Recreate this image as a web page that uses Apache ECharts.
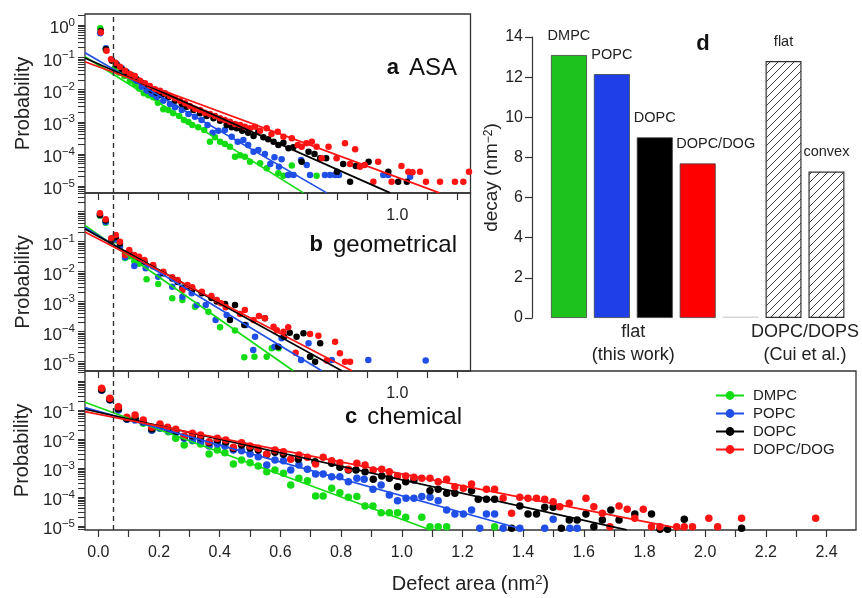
<!DOCTYPE html>
<html>
<head>
<meta charset="utf-8">
<script src="https://cdn.jsdelivr.net/npm/echarts@6/dist/echarts.min.js"></script>
<style>html,body{margin:0;padding:0;background:#fff}#main{width:862px;height:598px}</style>
</head>
<body>
<div id="main"></div>
<script>
// ---------------- data ----------------
const seriesNames = ['DMPC', 'POPC', 'DOPC', 'DOPC/DOG'];

// panel a (ASA): [defect area nm^2, probability]
const dmpcASA = [[0.006,0.80],[0.025,0.17],[0.054,0.0457],[0.069,0.0336],[0.087,0.0264],[0.105,0.0189],[0.122,0.0149],[0.136,0.0109],[0.152,0.00766],[0.167,0.00664],[0.183,0.00575],[0.199,0.00393],[0.217,0.00244],[0.234,0.00232],[0.250,0.00183],[0.270,0.00151],[0.286,0.00114],[0.301,0.000986],[0.314,0.000796],[0.334,0.000673],[0.354,0.000556],[0.373,0.000241],[0.390,0.00033],[0.407,0.000241],[0.423,0.000205],[0.440,0.000169],[0.457,0.0000826],[0.474,0.000091],[0.490,0.0000826],[0.507,0.0000578],[0.541,0.0000513],[0.563,0.0000359],[0.602,0.0000251],[0.619,0.0000212],[0.647,0.0000437],[0.730,0.0000212]];
const popcASA = [[0.006,0.56],[0.025,0.191],[0.045,0.083],[0.061,0.0624],[0.078,0.0457],[0.094,0.036],[0.111,0.0264],[0.128,0.0189],[0.145,0.0123],[0.161,0.00927],[0.178,0.0073],[0.195,0.00575],[0.217,0.00453],[0.239,0.00357],[0.256,0.00281],[0.279,0.00232],[0.301,0.00175],[0.323,0.00144],[0.345,0.00114],[0.365,0.000796],[0.382,0.00046],[0.401,0.000531],[0.423,0.000556],[0.446,0.000345],[0.466,0.000241],[0.485,0.000272],[0.501,0.000191],[0.519,0.000118],[0.535,0.000133],[0.557,0.0001],[0.575,0.0000489],[0.589,0.0000787],[0.604,0.0000404],[0.613,0.0000683],[0.635,0.0000223],[0.653,0.0000223],[0.678,0.0000652],[0.697,0.0000455],[0.708,0.0000223],[0.758,0.0000223],[0.775,0.0000223],[0.792,0.0000223],[0.805,0.0000223],[0.953,0.0000223],[0.970,0.0000223],[1.043,0.0000198]];
const dopcASA = [[0.008,0.66],[0.025,0.178],[0.045,0.079],[0.061,0.058],[0.078,0.0426],[0.094,0.0336],[0.111,0.0277],[0.128,0.0208],[0.145,0.0164],[0.161,0.0129],[0.178,0.00973],[0.195,0.00804],[0.212,0.0068],[0.234,0.00575],[0.256,0.00453],[0.279,0.00357],[0.295,0.00295],[0.318,0.00232],[0.340,0.00183],[0.362,0.00151],[0.385,0.00128],[0.407,0.00108],[0.429,0.000796],[0.446,0.000673],[0.463,0.000627],[0.481,0.000531],[0.501,0.00046],[0.519,0.000362],[0.535,0.000494],[0.552,0.00033],[0.568,0.000285],[0.586,0.000241],[0.602,0.000191],[0.619,0.000225],[0.636,0.00015],[0.652,0.000161],[0.680,0.0000578],[0.703,0.000118],[0.723,0.0001],[0.742,0.0000733],[0.762,0.0000733],[0.798,0.0000283],[0.819,0.0000489],[0.842,0.0000138],[0.861,0.0000424],[0.904,0.0000578],[0.970,0.0000283],[1.003,0.0000138],[1.032,0.0000138]];
const dogASA = [[0.008,0.60],[0.027,0.162],[0.042,0.0871],[0.057,0.0686],[0.072,0.0515],[0.089,0.0387],[0.105,0.0305],[0.122,0.0264],[0.139,0.0189],[0.156,0.0157],[0.172,0.0129],[0.189,0.0102],[0.206,0.00927],[0.223,0.00766],[0.239,0.00633],[0.256,0.00535],[0.273,0.00453],[0.290,0.00374],[0.306,0.0031],[0.323,0.00256],[0.340,0.00232],[0.356,0.00192],[0.373,0.00175],[0.390,0.00151],[0.407,0.00128],[0.423,0.00114],[0.440,0.00101],[0.457,0.000855],[0.474,0.000796],[0.490,0.000706],[0.507,0.000627],[0.524,0.000706],[0.541,0.000531],[0.563,0.000627],[0.579,0.000418],[0.600,0.000494],[0.619,0.000345],[0.647,0.000307],[0.667,0.000191],[0.680,0.000169],[0.696,0.000214],[0.714,0.000241],[0.730,0.000169],[0.747,0.0000733],[0.770,0.000169],[0.797,0.0000733],[0.825,0.000214],[0.842,0.0000489],[0.859,0.00014],[0.875,0.0000404],[0.891,0.0000455],[0.920,0.0000138],[0.936,0.0000578],[0.981,0.0000138],[1.014,0.0000424],[1.037,0.0000283],[1.051,0.000027],[1.076,0.0000283],[1.096,0.0000138],[1.143,0.0000138],[1.193,0.0000138],[1.221,0.0000138],[1.240,0.0000283]];

// panel b (geometrical)
const dmpcGeo = [[0.005,0.72],[0.024,0.42],[0.043,0.095],[0.058,0.11],[0.072,0.065],[0.089,0.028],[0.103,0.032],[0.120,0.022],[0.136,0.018],[0.161,0.00548],[0.200,0.00383],[0.247,0.00128],[0.281,0.00112],[0.323,0.000673],[0.368,0.000458],[0.407,0.000138],[0.457,0.000107],[0.488,0.0000138],[0.522,0.0000145],[0.563,0.0000145],[0.580,0.0000275],[0.603,0.0000275],[0.710,0.0000145]];
const popcGeo = [[0.005,0.75],[0.024,0.45],[0.043,0.10],[0.058,0.12],[0.072,0.07],[0.089,0.03],[0.103,0.038],[0.120,0.0152],[0.158,0.0128],[0.200,0.0067],[0.247,0.00312],[0.281,0.00145],[0.312,0.00187],[0.329,0.000764],[0.359,0.000764],[0.392,0.000242],[0.429,0.000355],[0.493,0.000165],[0.518,0.0000242],[0.524,0.0000673],[0.589,0.0000312],[0.613,0.0000592],[0.678,0.0000112],[0.703,0.0000404],[0.781,0.0000112],[0.903,0.0000112],[1.095,0.0000107]];
const dopcGeo = [[0.005,0.78],[0.024,0.50],[0.043,0.11],[0.058,0.14],[0.072,0.085],[0.089,0.04],[0.103,0.045],[0.120,0.033],[0.136,0.027],[0.154,0.021],[0.183,0.015],[0.217,0.0088],[0.247,0.0058],[0.265,0.0045],[0.281,0.0029],[0.298,0.0031],[0.314,0.0025],[0.346,0.0019],[0.378,0.0013],[0.396,0.001],[0.424,0.000826],[0.440,0.000242],[0.457,0.000764],[0.488,0.000165],[0.557,0.000275],[0.602,0.0000312],[0.621,0.0000673],[0.640,0.00009],[0.663,0.0000673],[0.686,0.0000869],[0.708,0.0000145],[0.725,0.00000987],[0.742,0.0000404]];
const dogGeo = [[0.005,0.87],[0.024,0.55],[0.043,0.128],[0.058,0.165],[0.072,0.0986],[0.089,0.0355],[0.103,0.0521],[0.120,0.0355],[0.136,0.0312],[0.154,0.0242],[0.183,0.0165],[0.217,0.00986],[0.247,0.0064],[0.265,0.00521],[0.281,0.00242],[0.298,0.00355],[0.314,0.00297],[0.346,0.00213],[0.378,0.00152],[0.396,0.00112],[0.410,0.000869],[0.426,0.00064],[0.474,0.000383],[0.490,0.000521],[0.519,0.000242],[0.537,0.000329],[0.557,0.000275],[0.586,0.000145],[0.597,0.00011],[0.619,0.0000987],[0.635,0.000138],[0.660,0.0000197],[0.708,0.0000826],[0.736,0.0000726],[0.764,0.0000107],[0.792,0.0000458],[0.808,0.0000187],[0.825,0.00000987],[0.842,0.00000987]];

// panel c (chemical)
const dmpcChem = [[0.011,0.50],[0.038,0.24],[0.066,0.12],[0.094,0.05],[0.121,0.05],[0.148,0.035],[0.176,0.0204],[0.203,0.0233],[0.231,0.0179],[0.255,0.0105],[0.283,0.00621],[0.310,0.00877],[0.337,0.00673],[0.365,0.00304],[0.392,0.00418],[0.417,0.00338],[0.445,0.00137],[0.472,0.00189],[0.500,0.00153],[0.527,0.00117],[0.555,0.000748],[0.582,0.000853],[0.610,0.000655],[0.634,0.00026],[0.661,0.000441],[0.689,0.000366],[0.716,0.000108],[0.741,0.000108],[0.769,0.000199],[0.796,0.000141],[0.824,0.0000975],[0.852,0.000103],[0.879,0.000049],[0.905,0.000049],[0.932,0.0000288],[0.959,0.0000288],[0.986,0.0000288],[1.013,0.0000199],[1.066,0.0000199],[1.093,0.0000095],[1.120,0.0000095],[1.148,0.0000095],[1.306,0.0000095]];
const popcChem = [[0.011,0.48],[0.038,0.22],[0.066,0.10],[0.094,0.048],[0.121,0.045],[0.148,0.038],[0.176,0.02],[0.203,0.024],[0.231,0.0194],[0.255,0.0165],[0.283,0.0105],[0.310,0.00924],[0.337,0.00809],[0.365,0.00574],[0.392,0.00673],[0.417,0.00574],[0.445,0.00418],[0.472,0.00396],[0.500,0.00304],[0.527,0.00246],[0.555,0.00127],[0.582,0.00189],[0.610,0.00179],[0.634,0.000853],[0.661,0.00127],[0.689,0.0009],[0.716,0.000621],[0.741,0.000621],[0.769,0.000502],[0.796,0.000502],[0.824,0.000338],[0.852,0.000441],[0.876,0.000407],[0.905,0.000184],[0.932,0.00026],[0.959,0.000117],[0.986,0.0000748],[1.014,0.0000899],[1.040,0.0000899],[1.066,0.000103],[1.093,0.0000975],[1.120,0.0000748],[1.148,0.0000356],[1.175,0.0000259],[1.203,0.0000259],[1.230,0.0000356],[1.257,0.0000083],[1.279,0.0000259],[1.306,0.0000259],[1.334,0.0000083],[1.389,0.0000083],[1.471,0.0000083],[1.499,0.000017],[1.554,0.0000083],[1.578,0.0000083]];
const dopcChem = [[0.011,0.50],[0.038,0.23],[0.066,0.11],[0.094,0.05],[0.121,0.05],[0.148,0.04],[0.176,0.022],[0.203,0.028],[0.228,0.022],[0.255,0.018],[0.283,0.012],[0.310,0.013],[0.337,0.011],[0.365,0.0075],[0.392,0.0088],[0.420,0.0078],[0.445,0.0047],[0.472,0.0062],[0.500,0.0049],[0.527,0.0042],[0.555,0.0029],[0.582,0.0035],[0.610,0.003],[0.659,0.00199],[0.714,0.00165],[0.769,0.00145],[0.796,0.00105],[0.824,0.000853],[0.849,0.000853],[0.879,0.000748],[0.906,0.000407],[0.934,0.00053],[0.959,0.000441],[0.986,0.000227],[1.013,0.000338],[1.040,0.000386],[1.093,0.000165],[1.120,0.000184],[1.148,0.000134],[1.175,0.000134],[1.230,0.000165],[1.252,0.0000831],[1.279,0.0000831],[1.306,0.0000831],[1.362,0.0000083],[1.389,0.000049],[1.416,0.0000259],[1.444,0.0000259],[1.471,0.0000441],[1.499,0.0000441],[1.526,0.0000083],[1.552,0.0000161],[1.578,0.0000161],[1.607,0.0000259],[1.633,0.0000095],[1.661,0.0000161],[1.689,0.0000356],[1.716,0.0000161],[1.768,0.0000259],[1.823,0.0000259],[1.851,0.0000077],[1.876,0.0000077],[1.931,0.000017],[2.120,0.0000083]];
const dogChem = [[0.011,0.558],[0.038,0.252],[0.066,0.130],[0.094,0.0558],[0.121,0.0673],[0.148,0.0452],[0.176,0.0252],[0.203,0.0329],[0.228,0.0252],[0.255,0.0215],[0.283,0.0127],[0.310,0.0157],[0.337,0.0137],[0.365,0.00809],[0.392,0.0105],[0.420,0.00924],[0.445,0.00516],[0.472,0.00748],[0.500,0.00574],[0.527,0.00476],[0.555,0.00304],[0.582,0.00418],[0.610,0.00366],[0.634,0.00199],[0.661,0.00281],[0.689,0.00233],[0.716,0.00137],[0.741,0.00233],[0.769,0.00179],[0.796,0.00153],[0.824,0.0009],[0.852,0.00145],[0.879,0.00127],[0.906,0.000853],[0.934,0.0009],[0.959,0.000748],[0.986,0.00053],[1.013,0.00053],[1.040,0.000476],[1.066,0.000441],[1.093,0.000441],[1.120,0.000338],[1.148,0.000407],[1.175,0.000227],[1.203,0.000199],[1.230,0.000281],[1.279,0.000184],[1.306,0.000184],[1.334,0.0000899],[1.362,0.0000274],[1.389,0.0000975],[1.416,0.0000899],[1.444,0.0000899],[1.471,0.0000831],[1.499,0.000069],[1.521,0.0000465],[1.552,0.0000605],[1.607,0.0000899],[1.633,0.0000465],[1.661,0.0000274],[1.686,0.0000095],[1.716,0.000049],[1.743,0.0000376],[1.768,0.0000184],[1.796,0.0000376],[1.823,0.0000095],[1.851,0.0000095],[1.906,0.0000095],[1.931,0.0000095],[1.958,0.0000095],[2.012,0.0000184],[2.041,0.0000095],[2.120,0.0000184],[2.364,0.0000184]];

// fitted exponential decays (two end points)
const fitASA = [
  [[-0.045,0.105],[0.686,0.0000062]],
  [[-0.045,0.14],[0.764,0.0000062]],
  [[-0.045,0.0958],[0.976,0.0000062]],
  [[-0.045,0.0735],[1.141,0.0000062]]
];
const fitGeo = [
  [[-0.045,0.341],[0.652,0.0000049]],
  [[-0.045,0.293],[0.747,0.0000049]],
  [[-0.045,0.261],[0.814,0.0000049]],
  [[-0.045,0.207],[0.848,0.0000049]]
];
const fitChem = [
  [[-0.044,0.1845],[1.095,0.0000073]],
  [[-0.044,0.12],[1.406,0.0000073]],
  [[-0.044,0.1057],[1.741,0.0000073]],
  [[-0.044,0.0873],[1.939,0.0000073]]
];

// panel d
const decayCategories = ['DMPC', 'POPC', 'DOPC', 'DOPC/DOG', '', 'flat', 'convex'];
const decayValues = [13.1, 12.15, 9.0, 7.7, 0, 12.8, 7.3];
const decayGroupLabels = ['flat\n(this work)', 'DOPC/DOPS\n(Cui et al.)'];
const decayGroupPositions = [1.5, 5.5];

// ticks
const xTicksAB = [0,0.1,0.2,0.3,0.4,0.5,0.6,0.7,0.8,0.9,1.0,1.1,1.2];
const xLabelsAB = [1.0];
const xTicksC = [0,0.1,0.2,0.3,0.4,0.5,0.6,0.7,0.8,0.9,1.0,1.1,1.2,1.3,1.4,1.5,1.6,1.7,1.8,1.9,2.0,2.1,2.2,2.3,2.4];
const xLabelsC = [0,0.2,0.4,0.6,0.8,1.0,1.2,1.4,1.6,1.8,2.0,2.2,2.4];
const yLabelsA = [1e-5,1e-4,1e-3,1e-2,1e-1,1];
const yLabelsBC = [1e-5,1e-4,1e-3,1e-2,1e-1];
const decayTicks = [0,2,4,6,8,10,12,14];

// ---------------- chart ----------------
const FONT = '"Liberation Sans", Arial, Helvetica, sans-serif';
const dotColors = ['#14dc14', '#1f4fe6', '#000000', '#ff1414'];
const barColors = ['#1ec21e', '#1f3fe8', '#000000', '#ff0000'];

function logTicks(lo, hi) {
  const t = [];
  for (let e = -6; e <= 0; e++) {
    for (let m = 1; m <= 9; m++) {
      const v = m * Math.pow(10, e);
      if (v >= lo && v <= hi) t.push(v);
    }
  }
  return t;
}
function powLabel(v) {
  const e = Math.round(Math.log10(v));
  return '{b|10}{s|' + (e < 0 ? '\u2212' + (-e) : String(e)) + '}';
}
const powRich = {
  b: { fontSize: 17, color: '#222', fontFamily: FONT, lineHeight: 17, padding: [7, 0, 0, 0] },
  s: { fontSize: 11.5, color: '#222', fontFamily: FONT, verticalAlign: 'top', lineHeight: 12 }
};

// "/" hatching tile for the literature bars
function makeHatchTile() {
  const c = document.createElement('canvas');
  c.width = 8; c.height = 8;
  const g = c.getContext('2d');
  g.fillStyle = '#ffffff';
  g.fillRect(0, 0, 8, 8);
  g.strokeStyle = '#3a3a3a';
  g.lineWidth = 1;
  g.beginPath();
  g.moveTo(-1, 9); g.lineTo(9, -1);
  g.moveTo(-1, 1); g.lineTo(1, -1);
  g.moveTo(7, 9); g.lineTo(9, 7);
  g.stroke();
  return c;
}
const hatchFill = { image: makeHatchTile(), repeat: 'repeat' };

const panelExt = [
  { ymin: 6.15e-6, ymax: 2.23, xmin: -0.045, xmax: 1.245 },
  { ymin: 4.82e-6, ymax: 4.14, xmin: -0.045, xmax: 1.245 },
  { ymin: 7.27e-6, ymax: 2.21, xmin: -0.044, xmax: 2.497 }
];

const grids = [
  { left: 85, top: 14, width: 385.5, height: 179 },
  { left: 85, top: 193, width: 385.5, height: 178 },
  { left: 85, top: 371, width: 771, height: 159 },
  { left: 547.5, top: 37, width: 301, height: 281 }
].map((g, i) => Object.assign({ show: i < 3, borderColor: '#333', borderWidth: 1.3, backgroundColor: 'transparent', containLabel: false }, g));

const xAxes = [];
const yAxes = [];
for (let p = 0; p < 3; p++) {
  const e = panelExt[p];
  xAxes.push({
    gridIndex: p, type: 'value', min: e.xmin, max: e.xmax, position: 'bottom',
    axisLine: { show: false, onZero: false }, splitLine: { show: false },
    axisTick: { show: true, inside: false, length: 7, customValues: p < 2 ? xTicksAB : xTicksC, lineStyle: { color: '#333', width: 1.2 } },
    axisLabel: { show: true, customValues: p < 2 ? xLabelsAB : xLabelsC, formatter: v => v.toFixed(1), fontSize: 16, color: '#222', fontFamily: FONT, margin: 15 },
    name: p === 2 ? 'Defect area (nm{s|2})' : '',
    nameLocation: 'middle', nameGap: 44,
    nameTextStyle: { fontSize: 20, color: '#222', fontFamily: FONT, rich: { s: { fontSize: 13, verticalAlign: 'top', fontFamily: FONT, color: '#222' } } }
  });
  yAxes.push({
    gridIndex: p, type: 'log', logBase: 10, min: e.ymin, max: e.ymax, position: 'left',
    axisLine: { show: false, onZero: false }, splitLine: { show: false },
    axisTick: { show: true, inside: false, length: 7, customValues: logTicks(e.ymin, e.ymax), lineStyle: { color: '#333', width: 1 } },
    axisLabel: { show: true, customValues: p === 0 ? yLabelsA : yLabelsBC, formatter: powLabel, rich: powRich, margin: 10 },
    name: 'Probability', nameLocation: 'middle', nameGap: 52,
    nameTextStyle: { fontSize: 20, color: '#222', fontFamily: FONT }
  });
}
// panel d axes
xAxes.push({
  gridIndex: 3, type: 'category', data: decayCategories, position: 'bottom',
  axisLine: { show: false, onZero: false }, axisTick: { show: false }, axisLabel: { show: false }, splitLine: { show: false }
});
xAxes.push({
  gridIndex: 3, type: 'value', min: -0.5, max: 6.5, position: 'bottom',
  axisLine: { show: false, onZero: false }, axisTick: { show: false }, splitLine: { show: false },
  axisLabel: {
    show: true, customValues: decayGroupPositions,
    formatter: v => decayGroupLabels[decayGroupPositions.indexOf(v)],
    fontSize: 18, lineHeight: 23, color: '#222', fontFamily: FONT, margin: 3
  }
});
yAxes.push({
  gridIndex: 3, type: 'value', min: 0, max: 14, interval: 2, offset: 15.5, position: 'left',
  axisLine: { show: true, onZero: false, lineStyle: { color: '#333', width: 1.2 } },
  axisTick: { show: true, inside: false, length: 7, lineStyle: { color: '#333', width: 1.2 } },
  axisLabel: { fontSize: 16, color: '#222', fontFamily: FONT, margin: 9, customValues: decayTicks },
  splitLine: { show: false },
  name: 'decay (nm{s|\u22122})', nameLocation: 'middle', nameGap: 27,
  nameTextStyle: { fontSize: 19, color: '#222', fontFamily: FONT, rich: { s: { fontSize: 12, verticalAlign: 'top', fontFamily: FONT, color: '#222' } } }
});

const panelPts = [
  [dmpcASA, popcASA, dopcASA, dogASA],
  [dmpcGeo, popcGeo, dopcGeo, dogGeo],
  [dmpcChem, popcChem, dopcChem, dogChem]
];
const panelFits = [fitASA, fitGeo, fitChem];

const series = [];
// fitted lines first (legend takes their line+dot icon), drawn above points via z
for (let p = 2; p >= 0; p--) {
  for (let i = 0; i < 4; i++) {
    series.push({
      type: 'line', name: seriesNames[i], xAxisIndex: p, yAxisIndex: p,
      data: panelFits[p][i], showSymbol: false, symbol: 'circle', symbolSize: 9,
      lineStyle: { color: dotColors[i], width: 1.7 }, itemStyle: { color: dotColors[i] },
      z: 4, clip: true, silent: true
    });
  }
}
for (let p = 0; p < 3; p++) {
  for (let i = 0; i < 4; i++) {
    const s = {
      type: 'scatter', name: seriesNames[i], xAxisIndex: p, yAxisIndex: p,
      data: panelPts[p][i], symbol: 'circle', symbolSize: p === 2 ? 7.5 : 6.5,
      itemStyle: { color: dotColors[i], opacity: 1 }, z: 3, silent: true
    };
    if (i === 0) {
      s.markLine = {
        silent: true, symbol: ['none', 'none'], label: { show: false }, animation: false,
        data: [
          { xAxis: 0.05, lineStyle: { type: [5, 4], color: '#333', width: 1.4 } },
          { yAxis: 1e-4, lineStyle: { type: 'solid', color: '#222', width: 1.6 } }
        ]
      };
    }
    series.push(s);
  }
}
// panel d bars
const barItemStyles = [
  { color: barColors[0], borderColor: '#444', borderWidth: 0.8 },
  { color: barColors[1], borderColor: '#444', borderWidth: 0.8 },
  { color: barColors[2], borderColor: '#444', borderWidth: 0.8 },
  { color: barColors[3], borderColor: '#444', borderWidth: 0.8 },
  { color: '#d6d6d6' },
  { color: hatchFill, borderColor: '#333', borderWidth: 1.2 },
  { color: hatchFill, borderColor: '#333', borderWidth: 1.2 }
];
const barLabelOffsets = [[0, 0], [0, 0], [0, 0], [18, 0], [0, 0], [0, 0], [0, 0]];
series.push({
  type: 'bar', xAxisIndex: 3, yAxisIndex: 3, barWidth: 36, barMinHeight: 1.5,
  data: decayValues.map((v, i) => ({
    value: v, itemStyle: barItemStyles[i],
    label: { offset: barLabelOffsets[i] }
  })),
  label: { show: true, position: 'top', distance: 12, formatter: '{b}', fontSize: 14.5, color: '#222', fontFamily: FONT },
  silent: true
});

const option = {
  animation: false,
  backgroundColor: '#ffffff',
  textStyle: { fontFamily: FONT },
  grid: grids,
  xAxis: xAxes,
  yAxis: yAxes,
  legend: {
    orient: 'vertical', left: 710, top: 383, itemWidth: 28, itemHeight: 11, itemGap: 3,
    data: seriesNames, selectedMode: false,
    textStyle: { fontSize: 15, color: '#222', fontFamily: FONT, padding: [0, 0, 0, 4] }
  },
  graphic: [
    { type: 'text', x: 457, y: 68, silent: true, style: { text: '{b|a}   {n|ASA}', align: 'right', verticalAlign: 'middle',
      rich: { b: { fontSize: 22, fontWeight: 'bold', fill: '#111', fontFamily: FONT }, n: { fontSize: 24, fill: '#111', fontFamily: FONT } } } },
    { type: 'text', x: 457, y: 245, silent: true, style: { text: '{b|b}   {n|geometrical}', align: 'right', verticalAlign: 'middle',
      rich: { b: { fontSize: 22, fontWeight: 'bold', fill: '#111', fontFamily: FONT }, n: { fontSize: 24, fill: '#111', fontFamily: FONT } } } },
    { type: 'text', x: 462, y: 417, silent: true, style: { text: '{b|c}   {n|chemical}', align: 'right', verticalAlign: 'middle',
      rich: { b: { fontSize: 22, fontWeight: 'bold', fill: '#111', fontFamily: FONT }, n: { fontSize: 24, fill: '#111', fontFamily: FONT } } } },
    { type: 'text', x: 703, y: 44, silent: true, style: { text: 'd', align: 'center', verticalAlign: 'middle', fontSize: 22, fontWeight: 'bold', fill: '#111', fontFamily: FONT } }
  ],
  series: series
};

const chart = echarts.init(document.getElementById('main'), null, { renderer: 'canvas', width: 862, height: 598 });
chart.setOption(option);
</script>
</body>
</html>
